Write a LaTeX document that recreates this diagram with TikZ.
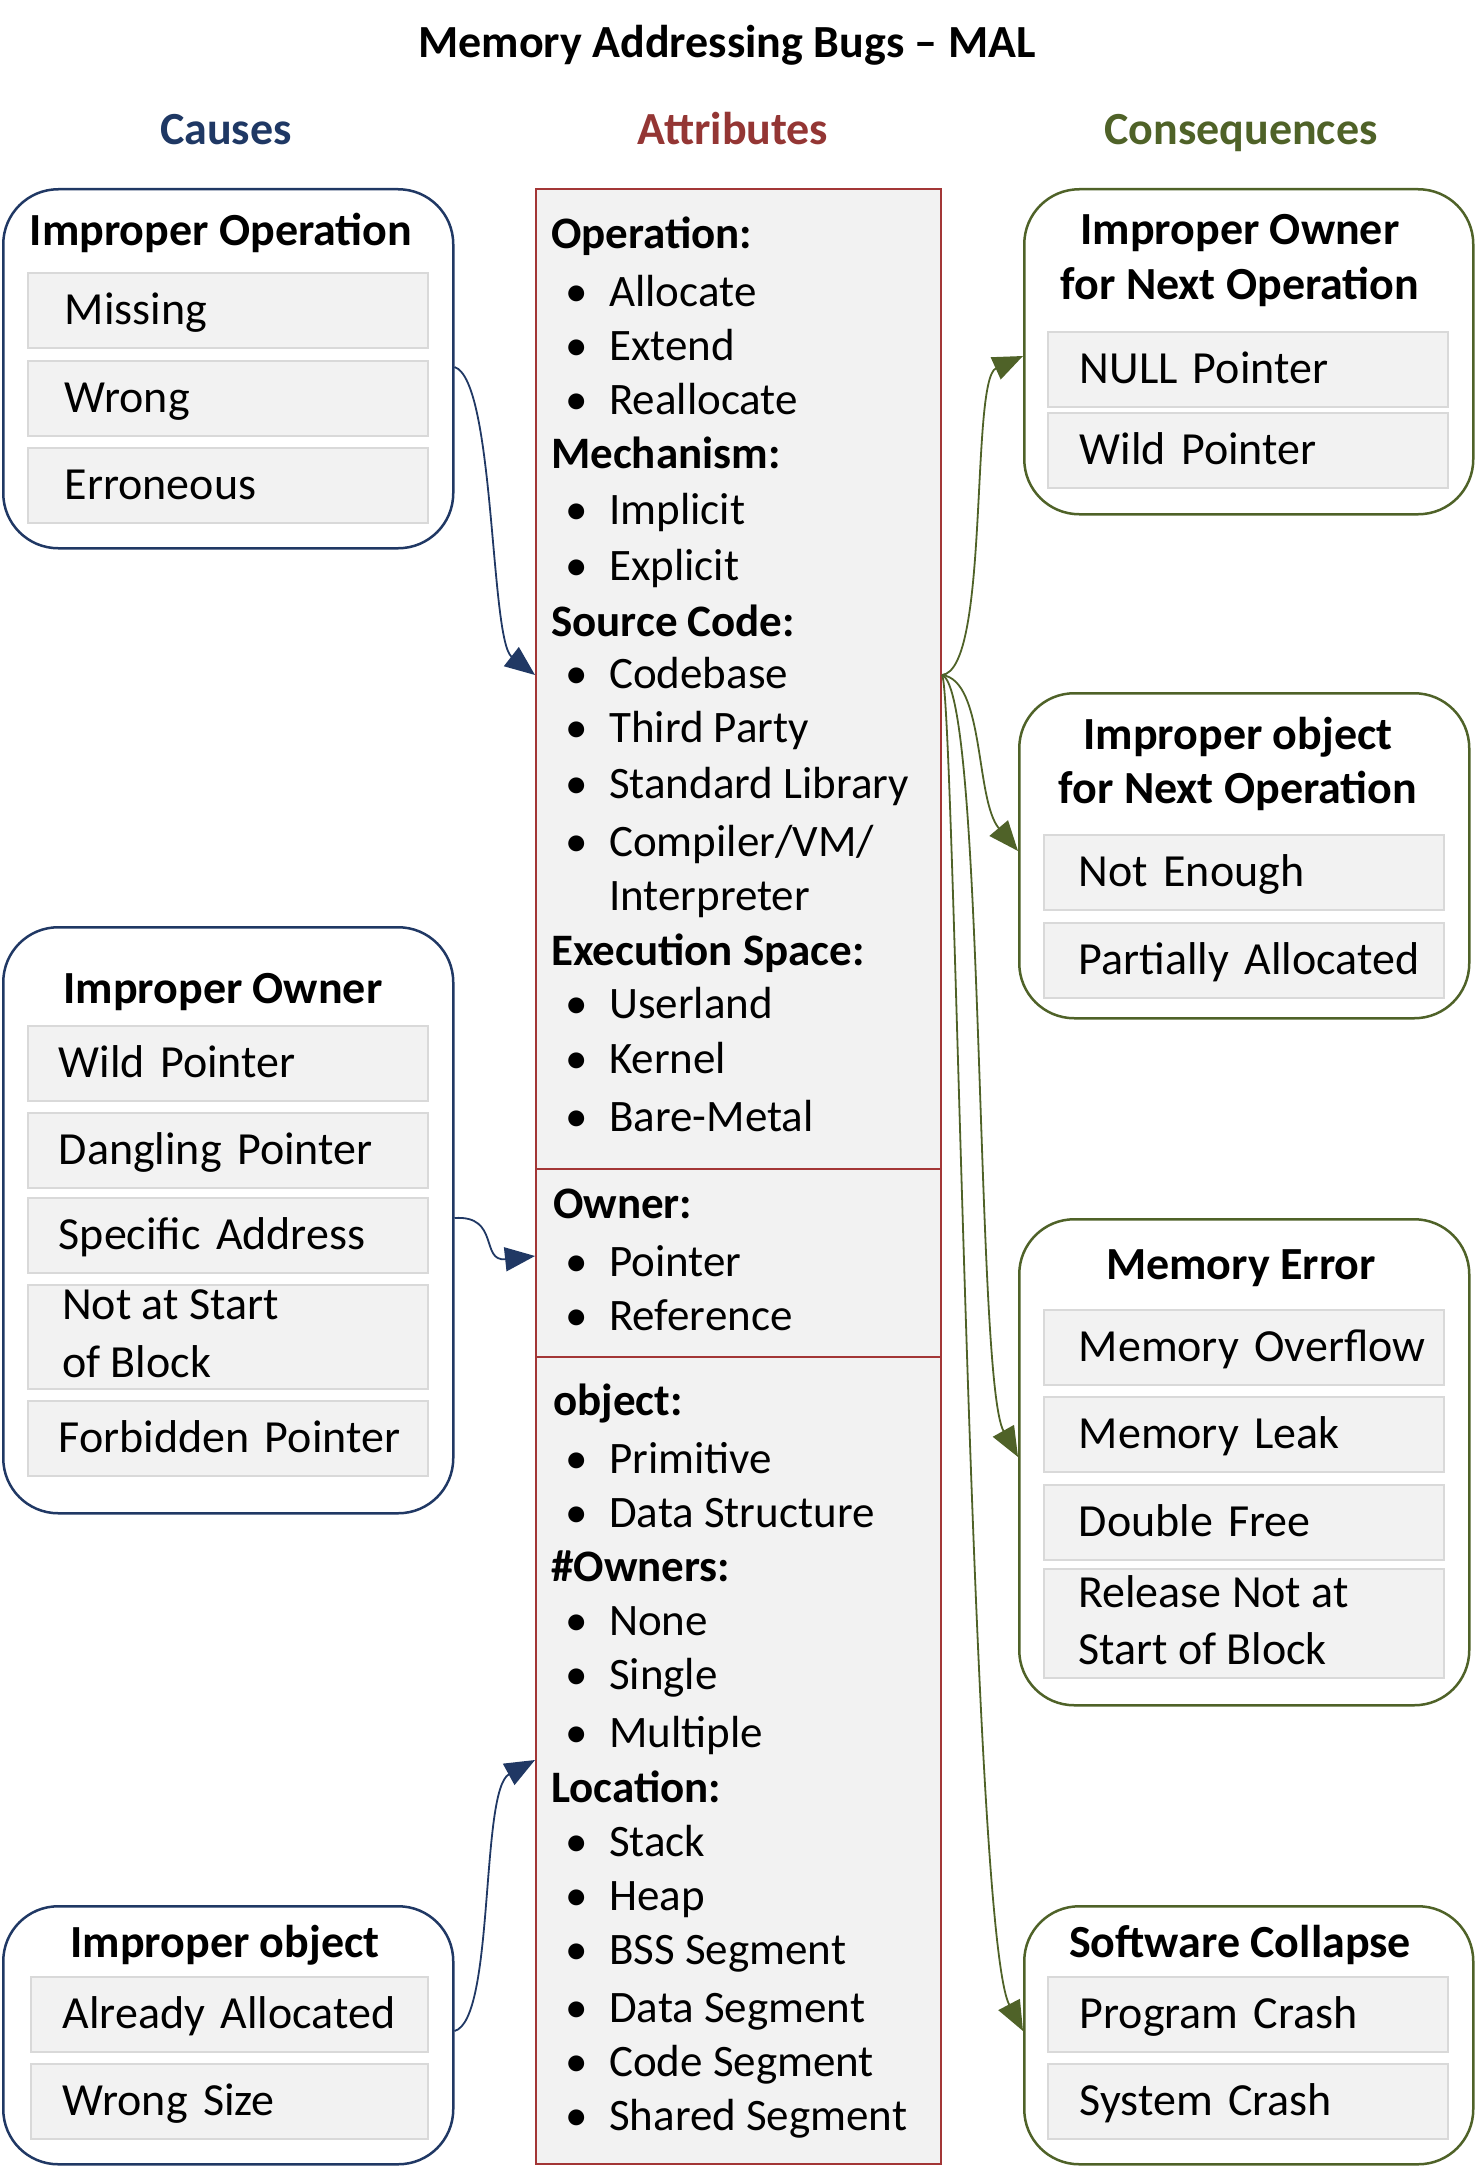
\documentclass[tikz,border=0pt]{standalone}
\usepackage{fontspec}
\setmainfont{Carlito}
\usetikzlibrary{arrows.meta,calc}
\definecolor{navy}{HTML}{203864}
\definecolor{dred}{HTML}{A33636}
\definecolor{dgreen}{HTML}{4F6228}
\definecolor{hblue}{HTML}{1F3864}
\definecolor{hred}{HTML}{943634}
\definecolor{hgreen}{HTML}{4F6228}
\definecolor{itemfill}{HTML}{F2F2F2}
\definecolor{itemline}{HTML}{D9D9D9}
\newcommand\mybul{\makebox[41pt][l]{\hspace*{-3pt}\textbullet}}
\begin{document}
\begin{tikzpicture}[x=1pt,y=-1pt,
  grp/.style={draw=#1, line width=2.5pt, rounded corners=55pt, fill=white, anchor=north west, inner sep=0pt},
  attr/.style={draw=dred, line width=2pt, fill=itemfill, anchor=north west, inner sep=0pt, minimum width=405pt},
  itm/.style={draw=itemline, line width=1.5pt, fill=itemfill, anchor=north west, inner sep=0pt,
    minimum height=75pt, text width=400pt, align=left, text height=33pt, text depth=4pt,
    font=\fontsize{46pt}{55pt}\selectfont},
  ttl/.style={anchor=base, inner sep=0pt, font=\fontsize{46pt}{55pt}\selectfont\bfseries},
  ltxt/.style={anchor=base west, inner sep=0pt, font=\fontsize{46pt}{55pt}\selectfont},
  ctxt/.style={anchor=base west, inner sep=0pt, font=\fontsize{45pt}{54pt}\selectfont},
  chd/.style={anchor=base west, inner sep=0pt, font=\fontsize{45pt}{54pt}\selectfont\bfseries},
  barrow/.style={draw=navy, line width=1.8pt, -{Triangle[length=30pt,width=24pt]}, fill=none},
  garrow/.style={draw=dgreen, line width=1.8pt, -{Triangle[length=30pt,width=24pt]}, fill=none},
]
\useasboundingbox (0,0) rectangle (1475,2170);

% title and headers
\node[ttl] (title) at (727,58) {Memory Addressing Bugs -- MAL};
\node[ttl, text=hblue] (hcause) at (226,145) {Causes};
\node[ttl, text=hred] (hattr) at (733,145) {Attributes};
\node[ttl, text=hgreen] (hcons) at (1241,145) {Consequences};

% ---------------- Causes ----------------
\node[grp=navy, minimum width=450pt, minimum height=359pt] (L1) at (2,188) {};
\node[ttl] (L1t) at (221,245) {Improper Operation};
\node[itm] (L1a) at (27,272) {\hspace*{37pt}Missing};
\node[itm] (L1b) at (27,360) {\hspace*{37pt}Wrong};
\node[itm] (L1c) at (27,447) {\hspace*{37pt}Erroneous};

\node[grp=navy, minimum width=450pt, minimum height=586pt] (L2) at (2,926) {};
\node[ttl] (L2t) at (223,1003) {Improper Owner};
\node[itm] (L2a) at (27,1025) {\hspace*{31pt}Wild Pointer};
\node[itm] (L2b) at (27,1112) {\hspace*{31pt}Dangling Pointer};
\node[itm] (L2c) at (27,1197) {\hspace*{31pt}Specific Address};
\node[itm, minimum height=104pt] (L2d) at (27,1284) {};
\node[ltxt] (L2d1) at (62,1319) {Not at Start};
\node[ltxt] (L2d2) at (62,1377) {of Block};
\node[itm] (L2e) at (27,1400) {\hspace*{31pt}Forbidden Pointer};

\node[grp=navy, minimum width=450pt, minimum height=258pt] (L3) at (2,1905) {};
\node[ttl] (L3t) at (225,1957) {Improper object};
\node[itm, text width=397pt] (L3a) at (30,1976) {\hspace*{32pt}Already Allocated};
\node[itm, text width=397pt] (L3b) at (30,2063) {\hspace*{32pt}Wrong Size};

% ---------------- Attributes ----------------
\node[attr, minimum height=980pt] (attrA) at (535,188) {};
\node[attr, minimum height=188pt] (attrB) at (535,1168) {};
\node[attr, minimum height=807pt] (attrC) at (535,1356) {};

\node[chd] (c01) at (551,248) {Operation:};
\node[ctxt] (c02) at (568,306) {\mybul Allocate};
\node[ctxt] (c03) at (568,360) {\mybul Extend};
\node[ctxt] (c04) at (568,414) {\mybul Reallocate};
\node[chd] (c05) at (551,468) {Mechanism:};
\node[ctxt] (c06) at (568,524) {\mybul Implicit};
\node[ctxt] (c07) at (568,580) {\mybul Explicit};
\node[chd] (c08) at (551,636) {Source Code:};
\node[ctxt] (c09) at (568,688) {\mybul Codebase};
\node[ctxt] (c10) at (568,742) {\mybul Third Party};
\node[ctxt] (c11) at (568,798) {\mybul Standard Library};
\node[ctxt] (c12) at (568,856) {\mybul Compiler/VM/};
\node[ctxt] (c13) at (609,910) {Interpreter};
\node[chd] (c14) at (551,965) {Execution Space:};
\node[ctxt] (c15) at (568,1018) {\mybul Userland};
\node[ctxt] (c16) at (568,1073) {\mybul Kernel};
\node[ctxt] (c17) at (568,1131) {\mybul Bare-Metal};

\node[chd] (c18) at (553,1218) {Owner:};
\node[ctxt] (c19) at (568,1276) {\mybul Pointer};
\node[ctxt] (c20) at (568,1330) {\mybul Reference};

\node[chd] (c21) at (553,1415) {object:};
\node[ctxt] (c22) at (568,1473) {\mybul Primitive};
\node[ctxt] (c23) at (568,1527) {\mybul Data Structure};
\node[chd] (c24) at (551,1581) {\#Owners:};
\node[ctxt] (c25) at (568,1635) {\mybul None};
\node[ctxt] (c26) at (568,1689) {\mybul Single};
\node[ctxt] (c27) at (568,1747) {\mybul Multiple};
\node[chd] (c28) at (551,1802) {Location:};
\node[ctxt] (c29) at (568,1856) {\mybul Stack};
\node[ctxt] (c30) at (568,1910) {\mybul Heap};
\node[ctxt] (c31) at (568,1964) {\mybul BSS Segment};
\node[ctxt] (c32) at (568,2022) {\mybul Data Segment};
\node[ctxt] (c33) at (568,2076) {\mybul Code Segment};
\node[ctxt] (c34) at (568,2130) {\mybul Shared Segment};

% ---------------- Consequences ----------------
\node[grp=dgreen, minimum width=449pt, minimum height=325pt] (R1) at (1023,188) {};
\node[ttl] (R1t1) at (1240,244) {Improper Owner};
\node[ttl] (R1t2) at (1240,299) {for Next Operation};
\node[itm] (R1a) at (1047,331) {\hspace*{32pt}NULL Pointer};
\node[itm] (R1b) at (1047,412) {\hspace*{32pt}Wild Pointer};

\node[grp=dgreen, minimum width=450pt, minimum height=325pt] (R2) at (1018,692) {};
\node[ttl] (R2t1) at (1238,749) {Improper object};
\node[ttl] (R2t2) at (1238,803) {for Next Operation};
\node[itm] (R2a) at (1043,834) {\hspace*{35pt}Not Enough};
\node[itm] (R2b) at (1043,922) {\hspace*{35pt}Partially Allocated};

\node[grp=dgreen, minimum width=450pt, minimum height=486pt] (R3) at (1018,1218) {};
\node[ttl] (R3t) at (1241,1279) {Memory Error};
\node[itm] (R3a) at (1043,1309) {\hspace*{35pt}Memory Overflow};
\node[itm] (R3b) at (1043,1396) {\hspace*{35pt}Memory Leak};
\node[itm] (R3c) at (1043,1484) {\hspace*{35pt}Double Free};
\node[itm, minimum height=109pt] (R3d) at (1043,1568) {};
\node[ltxt] (R3d1) at (1078,1607) {Release Not at};
\node[ltxt] (R3d2) at (1078,1664) {Start of Block};

\node[grp=dgreen, minimum width=449pt, minimum height=258pt] (R4) at (1023,1905) {};
\node[ttl] (R4t) at (1240,1957) {Software Collapse};
\node[itm] (R4a) at (1047,1976) {\hspace*{32pt}Program Crash};
\node[itm] (R4b) at (1047,2063) {\hspace*{32pt}System Crash};

% ---------------- connectors ----------------
\draw[barrow] (L1.east |- 0,367) .. controls (495,380) and (490,640) .. (attrA.west |- 0,675);
\draw[barrow] (L2.east |- 0,1218) .. controls (500,1215) and (480,1262) .. (attrB.west |- 0,1256);
\draw[barrow] (L3.east |- 0,2031) .. controls (495,2020) and (480,1790) .. (attrC.west |- 0,1760);

\draw[garrow] (attrA.east |- 0,675) .. controls (990,670) and (970,380) .. (R1.west |- 0,356);
\draw[garrow] (attrA.east |- 0,675) .. controls (985,680) and (975,800) .. (R2.west |- 0,851);
\draw[garrow] (attrA.east |- 0,675) .. controls (985,690) and (975,1380) .. (R3.west |- 0,1457);
\draw[garrow] (attrA.east |- 0,675) .. controls (955,690) and (970,1930) .. (R4.west |- 0,2031);
\end{tikzpicture}
\end{document}
